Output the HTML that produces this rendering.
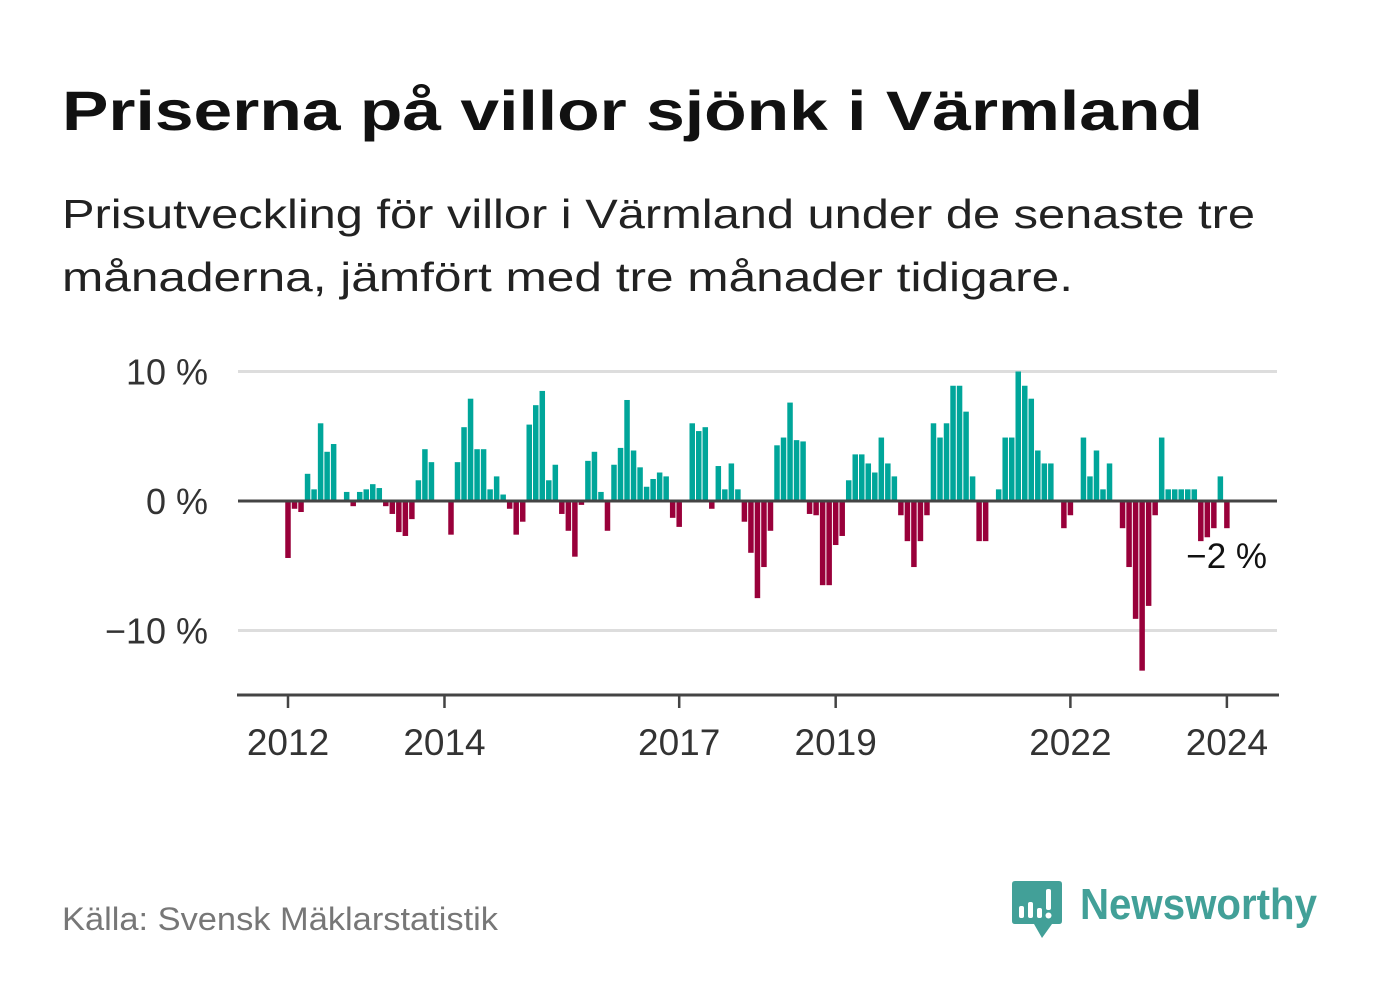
<!DOCTYPE html>
<html><head><meta charset="utf-8"><style>
html,body{margin:0;padding:0;background:#fff;}
svg{display:block;font-family:"Liberation Sans",sans-serif;}
</style></head><body>
<svg id="chart" width="1382" height="999" viewBox="0 0 1382 999">
<text x="62" y="130" font-size="56" font-weight="bold" fill="#111" textLength="1141" lengthAdjust="spacingAndGlyphs">Priserna på villor sjönk i Värmland</text>
<text x="62" y="228" font-size="41" fill="#222" textLength="1193" lengthAdjust="spacingAndGlyphs">Prisutveckling för villor i Värmland under de senaste tre</text>
<text x="62" y="291" font-size="41" fill="#222" textLength="1011" lengthAdjust="spacingAndGlyphs">månaderna, jämfört med tre månader tidigare.</text>
<g id="grid"></g>
<g id="bars"></g>
<g id="axes"></g>
<text x="1267" y="568" font-size="35" fill="#111" text-anchor="end">−2 %</text>
<text x="62" y="930" font-size="32" fill="#777" textLength="436" lengthAdjust="spacingAndGlyphs">Källa: Svensk Mäklarstatistik</text>
<g>
<path d="M1015 881 H1059 Q1062 881 1062 884 V921 Q1062 924 1059 924 H1052 L1042 938 L1034 924 H1015 Q1012 924 1012 921 V884 Q1012 881 1015 881 Z" fill="#42a098"/>
<rect x="1019" y="906" width="5" height="12" rx="2" fill="#fff"/>
<rect x="1028" y="902" width="5" height="16" rx="2" fill="#fff"/>
<rect x="1037" y="908" width="5" height="10" rx="2" fill="#fff"/>
<rect x="1046" y="889" width="5" height="21" rx="2" fill="#fff"/>
<circle cx="1048.5" cy="915.5" r="3" fill="#fff"/>
<text x="1080" y="919" font-size="44" font-weight="bold" fill="#42a098" textLength="237" lengthAdjust="spacingAndGlyphs">Newsworthy</text>
</g>
</svg>
<script>
const values = [
-4.4,-0.6,-0.85,2.1,0.9,6.0,3.8,4.4,0,0.7,-0.4,0.7,
0.9,1.3,1.0,-0.4,-1.0,-2.4,-2.7,-1.4,1.6,4.0,3.0,0,
0,-2.6,3.0,5.7,7.9,4.0,4.0,0.9,1.9,0.5,-0.6,-2.6,
-1.6,5.9,7.4,8.5,1.6,2.8,-1.0,-2.3,-4.3,-0.3,3.1,3.8,
0.7,-2.3,2.8,4.1,7.8,3.9,2.6,1.1,1.7,2.2,1.9,-1.3,
-2.0,0,6.0,5.4,5.7,-0.6,2.7,0.9,2.9,0.9,-1.6,-4.0,
-7.5,-5.1,-2.3,4.3,4.9,7.6,4.7,4.6,-1.0,-1.1,-6.5,-6.5,
-3.4,-2.7,1.6,3.6,3.6,2.9,2.2,4.9,2.9,1.9,-1.1,-3.1,
-5.1,-3.1,-1.1,6.0,4.9,6.0,8.9,8.9,6.9,1.9,-3.1,-3.1,
0,0.9,4.9,4.9,10,8.9,7.9,3.9,2.9,2.9,0,-2.1,
-1.1,0,4.9,1.9,3.9,0.9,2.9,0,-2.1,-5.1,-9.1,-13.1,
-8.1,-1.1,4.9,0.9,0.9,0.9,0.9,0.9,-3.1,-2.8,-2.1,1.9,
-2.1];
const startYear = 2012;
const xTickYears = [2012, 2014, 2017, 2019, 2022, 2024];
const yTicks = [10, 0, -10];
const yTickLabels = ["10 %", "0 %", "−10 %"];

const NS = "http://www.w3.org/2000/svg";
const x0 = 288, monthW = 6.52;
const xScale = m => x0 + m * monthW;
const yScale = v => 501 - v * 12.95;
function mk(tag, attrs, parent){const e=document.createElementNS(NS,tag);for(const k in attrs)e.setAttribute(k,attrs[k]);parent.appendChild(e);return e;}
const grid=document.getElementById('grid'), bars=document.getElementById('bars'), axes=document.getElementById('axes');

yTicks.forEach((t,i)=>{
  if(t!==0){
    const l=mk('line',{x1:238,x2:1277,y1:yScale(t),y2:yScale(t),stroke:'#dddddd','stroke-width':3},grid);
    
    
  }
  const tx=mk('text',{x:208,y:yScale(t)+13,'font-size':36,fill:'#333','text-anchor':'end'},axes);
  tx.textContent=yTickLabels[i];
  
  
});

values.forEach((v,i)=>{
  const cx=xScale(i), y=yScale(Math.max(v,0)), h=Math.abs(yScale(v)-yScale(0));
  if(h<=0) return;
  const r=mk('rect',{x:cx-2.75,y:y,width:5.5,height:h,fill:v>=0?'#00a69a':'#99003a'},bars);
  
  
});

const zl=mk('line',{x1:238,x2:1277,y1:yScale(0),y2:yScale(0),stroke:'#444','stroke-width':3},axes);


const xl=mk('line',{x1:237,x2:1279,y1:695,y2:695,stroke:'#444','stroke-width':3},axes);


xTickYears.forEach(yr=>{
  const x=xScale((yr-startYear)*12);
  const tk=mk('line',{x1:x,x2:x,y1:695,y2:708,stroke:'#444','stroke-width':2.5},axes);
  
  
  const tx=mk('text',{x:x,y:755,'font-size':37,fill:'#333','text-anchor':'middle'},axes);
  tx.textContent=String(yr);
  
  
});
</script>
</body></html>
